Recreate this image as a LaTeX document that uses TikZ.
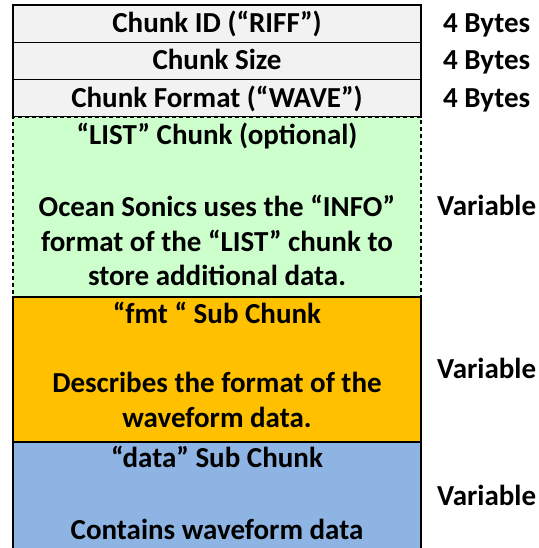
\documentclass[tikz,border=0pt]{standalone}
\usepackage{fontspec}
\setmainfont{Carlito}
\usetikzlibrary{positioning}
\definecolor{headerGray}{RGB}{242, 242, 242}
\definecolor{listGreen}{RGB}{204, 255, 204}
\definecolor{fmtOrange}{RGB}{255, 192, 0}
\definecolor{dataBlue}{RGB}{142, 180, 227}

\begin{document}
\begin{tikzpicture}[
    node distance=0pt,
    % --- Block Styles ---
    block/.style={
        rectangle,
        minimum width=408pt,
        inner sep=0pt,
        outer sep=0pt,
        text height=21pt,
        text depth=3pt,
        font=\bfseries\fontsize{29}{34.5}\selectfont
    },
    headerBlock/.style={block, minimum height=37.33pt, fill=headerGray, draw=black, line width=1.3pt},
    listBlock/.style={block, minimum height=180pt, fill=listGreen, draw=black, line width=1.4pt,
        dash pattern=on 4pt off 3pt},
    fmtBlock/.style={block, minimum height=145pt, fill=fmtOrange, draw=black, line width=1.5pt},
    dataBlock/.style={block, minimum height=110pt, fill=dataBlue, draw=black, line width=1.5pt},
    % --- Text Styles ---
    blockText/.style={anchor=base, inner sep=0pt, text width=400pt, align=flush center,
        font=\bfseries\fontsize{29}{34.5}\selectfont},
    sizeLabel/.style={anchor=west, inner sep=0pt, text height=21pt, text depth=3pt,
        font=\bfseries\fontsize{29}{34.5}\selectfont}
]
    \useasboundingbox (0pt,0pt) rectangle (538pt,-548pt);

    % --- RIFF Header ---
    \node (riffId) [headerBlock, anchor=north west] at (13pt,-5pt) {Chunk ID (“RIFF”)};
    \node (riffSize) [headerBlock, below=of riffId] {Chunk Size};
    \node (riffFormat) [headerBlock, below=of riffSize] {Chunk Format (“WAVE”)};

    % --- Sub Chunks ---
    \node (listChunk) [listBlock, below=of riffFormat] {};
    \node (fmtChunk) [fmtBlock, below=of listChunk] {};
    \node (dataChunk) [dataBlock, below=of fmtChunk] {};

    % --- Sub Chunk Texts ---
    \node (listText) [blockText] at ([yshift=-28pt]listChunk.north) {%
        “LIST” Chunk (optional)\\[37.5pt]
        Ocean Sonics uses the “INFO”\\
        format of the “LIST” chunk to\\
        store additional data.};
    \node (fmtText) [blockText] at ([yshift=-27pt]fmtChunk.north) {%
        “fmt “ Sub Chunk\\[34.5pt]
        Describes the format of the\\
        waveform data.};
    \node (dataText) [blockText] at ([yshift=-26pt]dataChunk.north) {%
        “data” Sub Chunk\\[37pt]
        Contains waveform data};

    % --- Sizes (right column) ---
    \node (riffIdSize) [sizeLabel, right=22pt of riffId.east] {4 Bytes};
    \node (riffSizeSize) [sizeLabel, right=22pt of riffSize.east] {4 Bytes};
    \node (riffFormatSize) [sizeLabel, right=22pt of riffFormat.east] {4 Bytes};
    \node (listSize) [sizeLabel, right=16pt of listChunk.east] {Variable};
    \node (fmtSize) [sizeLabel, right=16pt of fmtChunk.east] {Variable};
    \node (dataSize) [sizeLabel, right=16pt of dataChunk.east] {Variable};

\end{tikzpicture}
\end{document}
